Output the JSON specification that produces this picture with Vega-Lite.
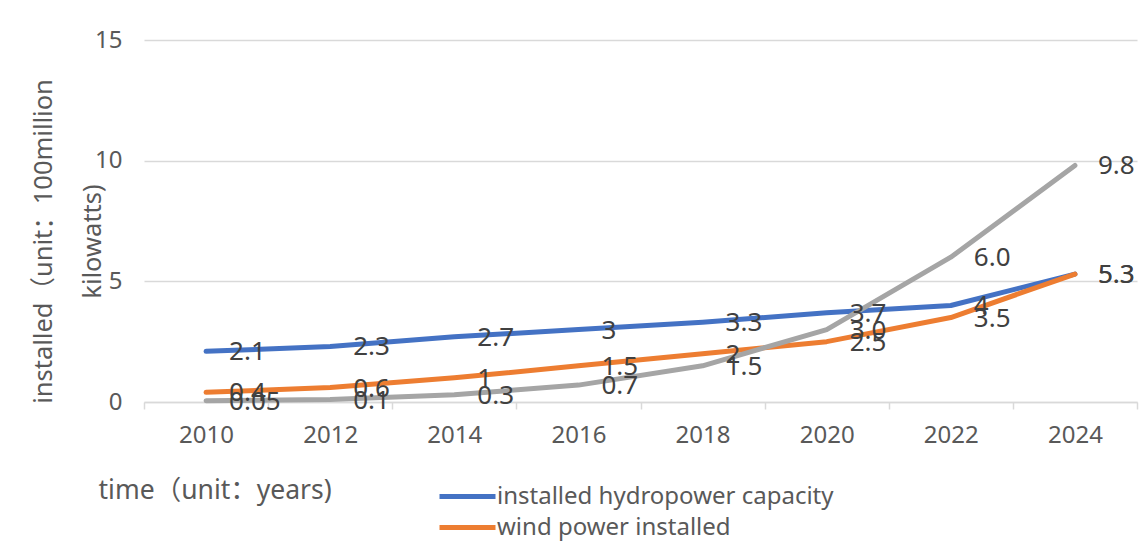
{
  "$schema": "https://vega.github.io/schema/vega-lite/v6.json",
  "width": 993,
  "height": 362,
  "autosize": {"type": "none"},
  "padding": {"left": 144, "top": 40, "right": 11, "bottom": 151},
  "background": "#ffffff",
  "config": {
    "view": {"stroke": null},
    "font": "Noto Sans, Noto Sans CJK SC"
  },
  "data": {
    "values": [
      {"year": "2010", "series": "installed hydropower capacity", "value": 2.1, "label": "2.1"},
      {"year": "2012", "series": "installed hydropower capacity", "value": 2.3, "label": "2.3"},
      {"year": "2014", "series": "installed hydropower capacity", "value": 2.7, "label": "2.7"},
      {"year": "2016", "series": "installed hydropower capacity", "value": 3.0, "label": "3"},
      {"year": "2018", "series": "installed hydropower capacity", "value": 3.3, "label": "3.3"},
      {"year": "2020", "series": "installed hydropower capacity", "value": 3.7, "label": "3.7"},
      {"year": "2022", "series": "installed hydropower capacity", "value": 4.0, "label": "4"},
      {"year": "2024", "series": "installed hydropower capacity", "value": 5.3, "label": "5.3"},
      {"year": "2010", "series": "wind power installed", "value": 0.4, "label": "0.4"},
      {"year": "2012", "series": "wind power installed", "value": 0.6, "label": "0.6"},
      {"year": "2014", "series": "wind power installed", "value": 1.0, "label": "1"},
      {"year": "2016", "series": "wind power installed", "value": 1.5, "label": "1.5"},
      {"year": "2018", "series": "wind power installed", "value": 2.0, "label": "2"},
      {"year": "2020", "series": "wind power installed", "value": 2.5, "label": "2.5"},
      {"year": "2022", "series": "wind power installed", "value": 3.5, "label": "3.5"},
      {"year": "2024", "series": "wind power installed", "value": 5.3, "label": "5.3"},
      {"year": "2010", "series": "solar power installed", "value": 0.05, "label": "0.05"},
      {"year": "2012", "series": "solar power installed", "value": 0.1, "label": "0.1"},
      {"year": "2014", "series": "solar power installed", "value": 0.3, "label": "0.3"},
      {"year": "2016", "series": "solar power installed", "value": 0.7, "label": "0.7"},
      {"year": "2018", "series": "solar power installed", "value": 1.5, "label": "1.5"},
      {"year": "2020", "series": "solar power installed", "value": 3.0, "label": "3.0"},
      {"year": "2022", "series": "solar power installed", "value": 6.0, "label": "6.0"},
      {"year": "2024", "series": "solar power installed", "value": 9.8, "label": "9.8"}
    ]
  },
  "encoding": {
    "x": {
      "field": "year",
      "type": "ordinal",
      "bandPosition": 0.5,
      "scale": {"type": "band", "paddingInner": 0, "paddingOuter": 0},
      "axis": {
        "title": "time（unit：years)",
        "titleX": -46,
        "titleY": 88,
        "titleAlign": "left",
        "titleBaseline": "middle",
        "titleFontSize": 26.5,
        "titleFontWeight": "normal",
        "titleColor": "#595959",
        "labelAngle": 0,
        "labelFontSize": 24,
        "labelColor": "#595959",
        "labelPadding": 14,
        "domainColor": "#d9d9d9",
        "domainWidth": 1.5,
        "tickColor": "#d9d9d9",
        "tickWidth": 1.5,
        "tickSize": 7,
        "tickBand": "extent",
        "grid": false
      }
    },
    "y": {
      "field": "value",
      "type": "quantitative",
      "scale": {"domain": [0, 15], "nice": false},
      "axis": {
        "values": [0, 5, 10, 15],
        "title": ["installed（unit：100million", "kilowatts)"],
        "titleX": -101,
        "titleY": 201,
        "titleAngle": -90,
        "titleAlign": "center",
        "titleBaseline": "middle",
        "titleLineHeight": 49,
        "titleFontSize": 25.5,
        "titleFontWeight": "normal",
        "titleColor": "#595959",
        "labelFontSize": 24,
        "labelColor": "#595959",
        "labelPadding": 22,
        "ticks": false,
        "domain": false,
        "gridColor": "#d9d9d9",
        "gridWidth": 1.5
      }
    },
    "color": {
      "field": "series",
      "type": "nominal",
      "scale": {
        "domain": ["installed hydropower capacity", "wind power installed", "solar power installed"],
        "range": ["#4472C4", "#ED7D31", "#A5A5A5"]
      },
      "legend": {
        "values": ["installed hydropower capacity", "wind power installed"],
        "title": null,
        "orient": "none",
        "legendX": 307,
        "legendY": 440,
        "direction": "vertical",
        "symbolType": "M-2,0H2",
        "symbolStrokeWidth": 5,
        "symbolSize": 784,
        "labelFontSize": 24,
        "labelLimit": 0,
        "labelColor": "#595959",
        "labelOffset": 13,
        "rowPadding": 2
      }
    }
  },
  "layer": [
    {
      "mark": {"type": "line", "strokeWidth": 5, "strokeCap": "round", "strokeJoin": "round"}
    },
    {
      "mark": {"type": "text", "align": "left", "baseline": "middle", "dx": 23, "dy": 1, "fontSize": 26},
      "encoding": {
        "text": {"field": "label", "type": "nominal"},
        "color": {"value": "#404040"}
      }
    }
  ]
}
